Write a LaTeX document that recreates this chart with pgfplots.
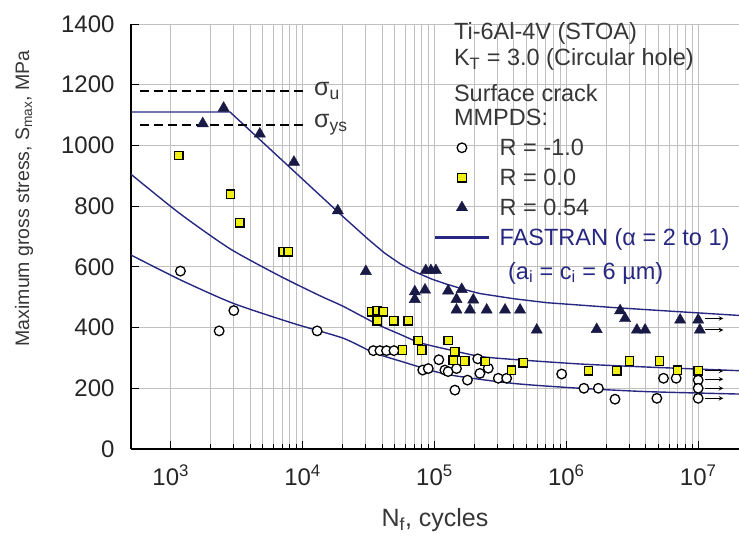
\documentclass[border=0pt]{standalone}
\usepackage{fontspec}
\setmainfont{Liberation Sans}
\usepackage{pgfplots}
\pgfplotsset{compat=1.18}
\usetikzlibrary{calc}
\definecolor{navy}{RGB}{40,40,130}
\definecolor{tri}{RGB}{25,25,70}
\definecolor{sq}{RGB}{240,240,20}
\definecolor{txt}{RGB}{55,55,55}
\definecolor{gridc}{RGB}{192,192,192}
\newcommand{\fs}[1]{\fontsize{#1bp}{#1bp}\selectfont}
\pgfplotsset{
  legmark/.style={legend image code/.code={\path[draw=none,fill=none] (0bp,-1bp) rectangle (52bp,1bp); \draw[##1] plot coordinates {(26bp,0bp)};}},
  legline/.style={legend image code/.code={\path[draw=none,fill=none] (0bp,-1bp) rectangle (52bp,1bp); \path[fill=navy] (0bp,-1bp) rectangle (52bp,1bp);}},
}
\begin{document}
\begin{tikzpicture}
\begin{axis}[
  name=ax,
  scale only axis, width=608bp, height=425bp,
  xmode=log, xmin=500, xmax=2.04e7, ymin=0, ymax=1400,
  axis lines*=left,
  axis line style={line width=1.8bp, black, -},
  xtick={1e3,1e4,1e5,1e6,1e7},
  xticklabels={10\textsuperscript{3},10\textsuperscript{4},10\textsuperscript{5},10\textsuperscript{6},10\textsuperscript{7}},
  ytick={0,200,400,600,800,1000,1200,1400},
  /pgf/number format/assume math mode=true,
  /pgf/number format/1000 sep={},
  tick align=inside,
  major tick length=8bp, minor tick length=5bp,
  tick style={black, line width=0.8bp},
  xmajorgrids, xminorgrids, ymajorgrids,
  grid style={gridc, line width=0.8bp},
  tick label style={font=\fs{24}, text=black!85},
  xticklabel style={yshift=-12bp},
  yticklabel style={xshift=-13bp},
  xlabel={N\textsubscript{f}, cycles},
  xlabel style={at={(rel axis cs:0.5,0)}, anchor=center, yshift=-71bp, font=\fs{25}, text=txt},
  ylabel={Maximum gross stress, S\textsubscript{max}, MPa},
  ylabel style={at={(rel axis cs:0,0.59)}, anchor=center, yshift=107bp, font=\fs{19.5}, text=txt},
  clip mode=individual,
  legend style={at={(rel axis cs:0.5,0.735)}, anchor=north west, draw=none, fill=none,
    inner sep=0pt, font=\fs{23.5}, text=txt, row sep=8bp,
    /tikz/every odd column/.append style={column sep=9bp}},
  legend cell align=left,
]
% legend images
\addlegendimage{only marks, mark=*, mark size=4.8bp, mark options={fill=white, draw=black, line width=1.3bp}, legmark}
\addlegendentry{R = -1.0}
\addlegendimage{only marks, mark=square*, mark size=4.2bp, mark options={fill=sq, draw=black, line width=1.3bp}, legmark}
\addlegendentry{R = 0.0}
\addlegendimage{only marks, mark=triangle*, mark size=6.5bp, mark options={fill=tri, draw=tri}, legmark}
\addlegendentry{R = 0.54}
\addlegendimage{navy, line width=1.5bp, legline}
\addlegendentry{\textcolor{navy}{FASTRAN (α = 2 to 1)}}

% FASTRAN curves
\addplot[forget plot, navy, line width=1.4bp] coordinates {
 (500,1110) (2818,1110) (20320,765) (31620,690) (42000,645) (55000,610) (70000,585)
 (95000,560) (123600,543) (170000,525) (221300,512) (400000,495) (709600,482)
 (2275000,466) (7300000,452) (20420000,440)};
\addplot[forget plot, navy, line width=1.4bp, smooth, tension=0.4] coordinates {
 (500,905) (1170,776) (2805,660) (6714,570) (13520,505) (20320,470) (37150,410)
 (54700,378) (77620,350) (125900,328) (221300,305) (397200,295) (1274000,280)
 (4083000,270) (20420000,258)};
\addplot[forget plot, navy, line width=1.4bp, smooth, tension=0.4] coordinates {
 (500,639) (1186,557) (2972,480) (8472,414) (20320,365) (34360,318) (54700,290)
 (123600,246) (397200,216) (1274000,200) (4083000,189) (20420000,181)};

% yield / ultimate lines
\addplot[forget plot, black, line width=2bp, dash pattern=on 9bp off 5bp] coordinates {(590,1180) (10700,1180)};
\addplot[forget plot, black, line width=2bp, dash pattern=on 9bp off 5bp] coordinates {(590,1068) (10700,1068)};

% run-out arrows
\addplot[forget plot, black, line width=1bp, -stealth] coordinates {(1.13e7,430) (1.55e7,430)};
\addplot[forget plot, black, line width=1bp, -stealth] coordinates {(1.13e7,392) (1.55e7,392)};
\addplot[forget plot, black, line width=1bp, -stealth] coordinates {(1.13e7,257) (1.55e7,257)};
\addplot[forget plot, black, line width=1bp, -stealth] coordinates {(1.13e7,230) (1.55e7,230)};
\addplot[forget plot, black, line width=1bp, -stealth] coordinates {(1.13e7,200) (1.55e7,200)};
\addplot[forget plot, black, line width=1bp, -stealth] coordinates {(1.13e7,167) (1.55e7,167)};

% R = -1.0
\addplot[forget plot, only marks, mark=*, mark size=4.8bp, mark options={fill=white, draw=black, line width=1.3bp}] coordinates {
 (1185,586) (2330,389) (3010,456) (12900,389) (34400,324) (38600,324) (43300,324) (49300,324)
 (81500,260) (89800,265) (108000,294) (120000,260) (127000,255) (143000,194) (147000,265)
 (178000,227) (213000,297) (221000,249) (256000,266) (305000,233) (353000,233) (922000,247)
 (1360000,200) (1750000,200) (2340000,164) (4860000,167) (5460000,233) (6810000,233)
 (10000000,227) (10000000,200) (10000000,167)};
% R = 0.0
\addplot[forget plot, only marks, mark=square*, mark size=4.2bp, mark options={fill=sq, draw=black, line width=1.3bp}] coordinates {
 (1150,967) (2840,839) (3340,745) (7130,650) (7770,650) (33300,452) (36800,455) (40800,452)
 (36800,422) (49300,422) (63200,422) (57400,326) (75400,357) (80000,326) (127000,357)
 (143000,320) (139000,293) (170000,290) (242000,288) (385000,260) (472000,284)
 (1470000,258) (2420000,258) (3010000,290) (5080000,290) (6970000,260) (10000000,258)};
% R = 0.54
\addplot[forget plot, only marks, mark=triangle*, mark size=6.5bp, mark options={fill=tri, draw=tri}] coordinates {
 (1750,1072) (2520,1123) (4740,1038) (8600,945) (18500,785) (30200,585) (86000,588) (94000,588)
 (102600,588) (71000,518) (71000,493) (84800,524) (127000,521) (161000,526) (147000,493)
 (147000,458) (197000,491) (186000,458) (249000,458) (343000,458) (446000,458) (597000,392)
 (1700000,394) (2560000,456) (2790000,430) (3430000,392) (3960000,392) (7300000,425)
 (10000000,425) (10300000,392)};

% annotations
\node[anchor=west, font=\fs{23.5}, text=txt, inner sep=0pt] at (rel axis cs:0.531,0.979) {Ti-6Al-4V (STOA)};
\node[anchor=west, font=\fs{23.5}, text=txt, inner sep=0pt] at (rel axis cs:0.531,0.916) {K\textsubscript{T} = 3.0 (Circular hole)};
\node[anchor=west, font=\fs{23.5}, text=txt, inner sep=0pt] at (rel axis cs:0.531,0.838) {Surface crack};
\node[anchor=west, font=\fs{23.5}, text=txt, inner sep=0pt] at (rel axis cs:0.531,0.781) {MMPDS:};
\node[anchor=west, font=\fs{23.5}, text=navy, inner sep=0pt] at (rel axis cs:0.62,0.414) {(a\textsubscript{i} = c\textsubscript{i} = 6 µm)};
\node[anchor=west, font=\fs{25}, text=txt, inner sep=0pt] at (axis cs:1.22e4,1180) {σ\textsubscript{u}};
\node[anchor=west, font=\fs{25}, text=txt, inner sep=0pt] at (axis cs:1.22e4,1068) {σ\textsubscript{ys}};
\end{axis}
\pgfresetboundingbox
\path ($(ax.south west)+(-131bp,-89bp)$) rectangle ($(ax.north east)+(0bp,24bp)$);
\end{tikzpicture}
\end{document}
